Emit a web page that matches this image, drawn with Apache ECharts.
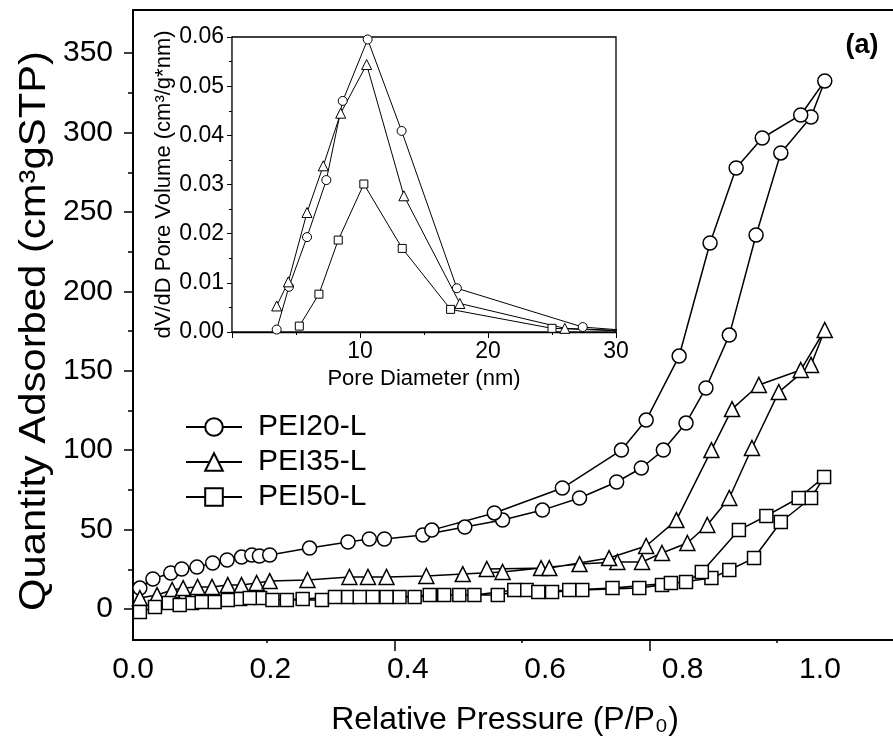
<!DOCTYPE html>
<html><head><meta charset="utf-8">
<script src="https://cdn.jsdelivr.net/npm/echarts@6/dist/echarts.min.js"></script>
<style>html,body{margin:0;padding:0;background:#fff}#c{width:893px;height:738px}</style>
</head><body><div id="c"></div>
<script>
// ---------- tick labels ----------
const xTickLabels = [0, 0.2, 0.4, 0.6, 0.8, 1.0];
const yTickLabels = [0, 50, 100, 150, 200, 250, 300, 350];
const yMinorTicks = [25, 75, 125, 175, 225, 275, 325];
const xTickMarksShort = [0.2, 0.6, 1.0];
const xTickMarksLong = [0.4, 0.8];
const seriesNames = ['PEI20-L', 'PEI35-L', 'PEI50-L'];

// ---------- main isotherms (adsorption branch, then desorption branch) ----------
const pei20P = [0.010,0.029,0.055,0.071,0.093,0.116,0.137,0.158,0.173,0.184,0.199,0.257,0.313,0.344,0.366,0.422,0.483,0.538,0.596,0.650,0.704,0.740,0.772,0.805,0.834,0.868,0.907,0.943,0.987,1.007,
                0.972,0.916,0.878,0.840,0.795,0.747,0.711,0.625,0.526,0.435];
const pei20V = [13.2,18.9,22.7,25.2,26.4,29.0,30.9,32.7,34.0,33.4,34.0,38.4,42.2,44.1,44.1,46.6,51.6,56.0,62.3,69.9,80.0,88.8,100.1,117.1,139.2,172.5,235.5,287.2,309.8,332.5,
                311.1,296.6,277.7,230.5,159.3,119.0,100.1,76.2,60.5,49.7];

const pei35P = [0.010,0.035,0.057,0.073,0.094,0.115,0.138,0.158,0.180,0.199,0.254,0.315,0.342,0.369,0.427,0.480,0.538,0.594,0.650,0.705,0.741,0.770,0.807,0.836,0.868,0.901,0.940,0.987,1.007,
                0.972,0.911,0.872,0.842,0.791,0.747,0.693,0.606,0.515];
const pei35V = [6.9,8.8,12.0,13.2,13.9,13.9,15.1,15.1,16.4,17.6,18.3,20.2,20.2,20.2,20.8,22.0,23.3,25.8,28.3,29.6,29.6,35.3,41.6,52.9,69.9,101.4,136.6,153.7,175.7,
                150.5,141.1,125.9,100.1,56.0,39.7,32.1,25.8,25.2];

const pei50P = [0.010,0.032,0.052,0.086,0.119,0.156,0.185,0.224,0.275,0.313,0.349,0.388,0.432,0.475,0.531,0.573,0.610,0.654,0.737,0.770,0.842,0.868,0.904,0.943,0.987,1.006,
                0.969,0.922,0.882,0.828,0.805,0.783,0.698,0.635,0.590,0.555,0.497,0.453,0.410,0.369,0.330,0.294,0.247,0.203,0.170,0.138,0.100,0.068];
const pei50V = [-1.9,1.3,3.8,3.8,4.4,6.3,6.9,5.7,5.7,7.6,7.6,7.6,8.8,8.8,8.8,12.0,10.7,12.0,13.2,15.1,19.5,24.6,32.1,54.8,69.9,83.1,
                69.9,58.6,49.7,23.3,17.0,16.4,13.2,12.0,10.7,12.0,8.8,8.8,7.6,7.6,7.6,7.6,6.3,5.7,6.9,5.7,4.4,2.5];

// ---------- inset: pore size distribution ----------
const insetXTickLabels = [10, 20, 30];
const psd20D = [3.49,4.45,5.86,7.37,8.65,10.6,13.25,17.57,27.4,31.5];
const psd20Y = [0.0005,0.0092,0.0193,0.0309,0.0470,0.0595,0.0409,0.0089,0.0010,0.0002];
const psd35D = [3.49,4.40,5.86,7.13,8.49,10.52,13.43,17.8,26.0,31.5];
const psd35Y = [0.0053,0.0102,0.0243,0.0338,0.0445,0.0544,0.0277,0.0058,0.00075,0.0002];
const psd50D = [5.26,6.79,8.30,10.30,13.30,17.08,25.0,31.5];
const psd50Y = [0.0012,0.0077,0.0187,0.0301,0.0170,0.0046,0.00075,0.0001];

const zip = (a, b) => a.map((v, i) => [v, b[i]]);
const F = 'Liberation Sans, Arial, Helvetica, sans-serif';
const FN = '"Liberation Sans Narrow", "Arial Narrow", "Liberation Sans", Arial, sans-serif';
const symbols = ['circle', 'triangle', 'rect'];
const mainSizes = [14, 15, 13];
const insetSizes = [9, 10, 8];

const chart = echarts.init(document.getElementById('c'), null, {renderer: 'canvas'});

function mkSeries(name, data, sym, size, xi, yi, lw) {
  return {
    type: 'line', name: name, data: data, xAxisIndex: xi, yAxisIndex: yi,
    symbol: sym, symbolSize: size, showSymbol: true, clip: true,
    lineStyle: {color: '#000', width: lw},
    itemStyle: {color: '#fff', borderColor: '#000', borderWidth: lw},
    emphasis: {disabled: true}, silent: true, z: 3
  };
}

const mainData = [zip(pei20P, pei20V), zip(pei35P, pei35V), zip(pei50P, pei50V)];
const insetData = [zip(psd20D, psd20Y), zip(psd35D, psd35Y), zip(psd50D, psd50Y)];

const series = [];
for (let i = 0; i < 3; i++) series.push(mkSeries(seriesNames[i], mainData[i], symbols[i], mainSizes[i], 0, 0, 1.5));
for (let i = 0; i < 3; i++) {
  const s = mkSeries(seriesNames[i], insetData[i], symbols[i], insetSizes[i], 4, 2, 1);
  s.z = 10;
  series.push(s);
}

const blank = {show: false};
const MAIN_XMAX = 1.1063;   // right edge of the plot = picture edge
const TICK_MIN = -0.0096, TICK_MAX = 1.1819;
chart.setOption({
  animation: false,
  backgroundColor: '#fff',
  grid: [
    {left: 133, top: 10, width: 760, height: 630, show: false, outerBoundsMode: 'none', containLabel: false},
    {left: 232, top: 37, width: 384, height: 295, show: true, borderColor: '#000', borderWidth: 1.3, backgroundColor: '#fff', z: 8, outerBoundsMode: 'none', containLabel: false}
  ],
  legend: {
    data: seriesNames, orient: 'vertical', left: 180, top: 407,
    itemWidth: 56, itemHeight: 22, itemGap: 5, selectedMode: false,
    textStyle: {fontSize: 30, lineHeight: 30, color: '#000', fontFamily: F, padding: [0, 0, 0, 11]}
  },
  xAxis: [
    {gridIndex: 0, type: 'value', min: 0, max: MAIN_XMAX, position: 'bottom',
     axisLine: {show: true, onZero: false, lineStyle: {color: '#000', width: 2}},
     axisTick: blank, splitLine: blank,
     axisLabel: {customValues: xTickLabels, formatter: v => v.toFixed(1), fontSize: 30, color: '#000', fontFamily: F, margin: 15}},
    {gridIndex: 0, type: 'value', min: TICK_MIN, max: TICK_MAX, position: 'bottom',
     axisLine: {show: false, onZero: false}, splitLine: blank, axisLabel: blank,
     axisTick: {show: true, customValues: xTickMarksShort, length: 3, lineStyle: {color: '#000', width: 1.5}}},
    {gridIndex: 0, type: 'value', min: TICK_MIN, max: TICK_MAX, position: 'bottom',
     axisLine: {show: false, onZero: false}, splitLine: blank, axisLabel: blank,
     axisTick: {show: true, customValues: xTickMarksLong, length: 11, lineStyle: {color: '#000', width: 1.5}}},
    {gridIndex: 0, type: 'value', min: 0, max: MAIN_XMAX, position: 'top',
     axisLine: {show: true, onZero: false, lineStyle: {color: '#000', width: 2}},
     axisTick: blank, splitLine: blank, axisLabel: blank},
    {gridIndex: 1, type: 'value', min: 0, max: 30, interval: 10, position: 'bottom',
     axisLine: {show: true, onZero: false, lineStyle: {color: '#000', width: 1.3}},
     axisTick: {show: true, length: 6, lineStyle: {color: '#000', width: 1}},
     minorTick: {show: true, splitNumber: 2, length: 3, lineStyle: {color: '#000', width: 1}},
     splitLine: blank,
     axisLabel: {customValues: insetXTickLabels, fontSize: 23, color: '#000', fontFamily: FN, margin: 8},
     name: 'Pore Diameter (nm)', nameLocation: 'middle', nameGap: 36,
     nameTextStyle: {fontSize: 22, color: '#000', fontFamily: F}}
  ],
  yAxis: [
    {gridIndex: 0, type: 'value', min: -19.5, max: 377.2, position: 'left',
     axisLine: {show: true, onZero: false, lineStyle: {color: '#000', width: 2}},
     axisTick: {show: true, customValues: yTickLabels, length: 9, lineStyle: {color: '#000', width: 1.5}},
     splitLine: blank,
     axisLabel: {customValues: yTickLabels, fontSize: 30, color: '#000', fontFamily: F, margin: 20}},
    {gridIndex: 0, type: 'value', min: -19.5, max: 377.2, position: 'left',
     axisLine: {show: false, onZero: false}, splitLine: blank, axisLabel: blank,
     axisTick: {show: true, customValues: yMinorTicks, length: 5, lineStyle: {color: '#000', width: 1.5}}},
    {gridIndex: 1, type: 'value', min: 0, max: 0.06, interval: 0.01, position: 'left',
     axisLine: {show: true, onZero: false, lineStyle: {color: '#000', width: 1.3}},
     axisTick: {show: true, length: 5, lineStyle: {color: '#000', width: 1}},
     minorTick: {show: true, splitNumber: 2, length: 3, lineStyle: {color: '#000', width: 1}},
     splitLine: blank,
     axisLabel: {formatter: v => v.toFixed(2), fontSize: 23, color: '#000', fontFamily: FN, margin: 8},
     name: 'dV/dD Pore Volume (cm³/g*nm)', nameLocation: 'middle', nameGap: 51,
     nameTextStyle: {fontSize: 22, color: '#000', fontFamily: F}}
  ],
  graphic: [
    {type: 'text', x: 35, y: 331, rotation: Math.PI / 2, scaleX: 1.13,
     style: {text: 'Quantity Adsorbed (cm³gSTP)', font: '37px ' + F, fill: '#000', align: 'center', verticalAlign: 'middle'}},
    {type: 'text', x: 505, y: 720,
     style: {text: 'Relative Pressure (P/P₀)', font: '32px ' + F, fill: '#000', align: 'center', verticalAlign: 'middle'}},
    {type: 'text', x: 862, y: 46,
     style: {text: '(a)', font: 'bold 27px ' + F, fill: '#000', align: 'center', verticalAlign: 'middle'}}
  ],
  series: series
});
</script>
</body></html>
